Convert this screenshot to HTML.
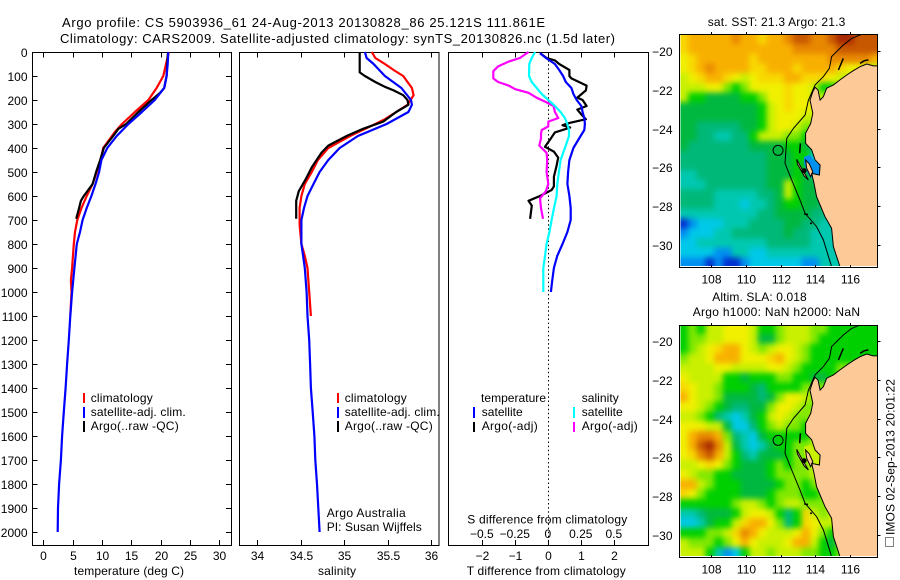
<!DOCTYPE html>
<html>
<head>
<meta charset="utf-8">
<title>Argo profile</title>
<style>
html,body{margin:0;padding:0;background:#fff;}
svg{display:block;}
text{font-family:"Liberation Sans",sans-serif;fill:#000;}
</style>
</head>
<body>
<svg id="chart" xmlns="http://www.w3.org/2000/svg" width="900" height="580" viewBox="0 0 900 580">
<defs>
<filter id="soft" x="-5%" y="-5%" width="110%" height="110%" color-interpolation-filters="sRGB"><feGaussianBlur stdDeviation="3"/></filter>
<clipPath id="clip-top"><rect x="680.5" y="35" width="196.5" height="231"/></clipPath>
<clipPath id="clip-bottom"><rect x="680.5" y="326" width="196.5" height="230"/></clipPath>
</defs>
</svg>
<script>
// ---------- Profile data (depth in m) ----------
const depthTicks = [0,100,200,300,400,500,600,700,800,900,1000,1100,1200,1300,1400,1500,1600,1700,1800,1900,2000];
const tempTicks = [0,5,10,15,20,25,30];
const salTicks = [34,34.5,35,35.5,36];
const tDiffTicks = [-2,-1,0,1,2];
const sDiffTicks = [-0.5,-0.25,0,0.25,0.5];

const tempClimDepth = [0,50,100,150,200,250,300,330,400,450,500,550,600,650,700,750,800,900,950,1000,1100];
const tempClimValue = [21.4,20.9,20.45,19.3,17.9,15.6,13.4,12.3,10.2,9.8,9.1,8.4,7.4,6.5,5.8,5.4,5.2,4.9,4.7,4.8,4.6];
const tempSatDepth = [0,50,100,150,200,250,300,350,400,450,500,550,600,650,700,750,800,900,1000,1100,1200,1300,1400,1500,1600,1700,1800,1900,2000];
const tempSatValue = [21.3,21.2,21.0,20.6,19.0,16.8,14.5,12.5,10.9,9.9,9.5,8.9,8.2,7.4,6.7,6.25,5.7,5.3,4.9,4.6,4.35,4.05,3.8,3.5,3.2,3.0,2.7,2.5,2.45];
const tempArgoDepth = [0,50,100,150,170,200,250,300,320,350,400,450,500,550,570,600,620,650,695];
const tempArgoValue = [21.25,21.1,21.0,20.6,19.9,18.45,16.2,14.1,12.8,11.9,10.3,9.7,9.0,8.4,7.8,6.9,6.4,6.1,5.6];

const salClimDepth = [0,25,50,75,100,150,180,220,250,280,300,350,400,450,500,550,600,650,720,800,850,900,1000,1100];
const salClimValue = [35.32,35.36,35.47,35.57,35.68,35.78,35.8,35.73,35.6,35.47,35.36,35.07,34.82,34.7,34.63,34.55,34.51,34.49,34.49,34.51,34.55,34.58,34.6,34.62];
const salSatDepth = [0,25,50,100,150,200,220,250,300,350,400,450,500,550,600,650,700,800,900,1000,1100,1200,1300,1400,1500,1600,1700,1800,1900,2000];
const salSatValue = [35.24,35.26,35.34,35.47,35.66,35.77,35.78,35.74,35.49,35.16,34.95,34.82,34.72,34.65,34.58,34.54,34.51,34.51,34.55,34.57,34.58,34.6,34.61,34.62,34.64,34.66,34.67,34.69,34.705,34.72];
const salArgoDepth = [0,40,85,100,125,145,160,180,200,220,250,290,320,350,390,420,480,530,580,620,695];
const salArgoValue = [35.18,35.18,35.18,35.24,35.36,35.47,35.57,35.68,35.73,35.74,35.6,35.45,35.22,35.03,34.82,34.74,34.63,34.56,34.48,34.45,34.45];

const dTSatDepth = [5,25,50,75,100,125,150,175,200,225,250,275,300,325,350,400,450,500,550,600,650,700,750,800,850,900,950,1000];
const dTSatValue = [-0.25,-0.07,0.2,0.33,0.45,0.53,0.7,0.76,0.86,1.0,1.04,1.09,1.11,1.09,0.98,0.76,0.64,0.6,0.58,0.64,0.68,0.68,0.58,0.43,0.27,0.17,0.12,0.08];
const dSSatDepth = [0,25,50,100,125,150,175,200,225,250,275,300,325,350,400,450,500,550,600,650,700,750,800,850,900,950,1000];
const dSSatValue = [-0.1,-0.126,-0.144,-0.146,-0.126,-0.088,-0.05,0,0.05,0.093,0.126,0.144,0.157,0.157,0.126,0.093,0.08,0.068,0.063,0.043,0.025,0.008,-0.013,-0.025,-0.038,-0.038,-0.038];
const dTArgoDepth = [5,25,35,50,75,100,110,140,160,190,200,225,240,260,280,295,305,315,335,360,395,415,440,475,520,560,575,600,620,640,695];
const dTArgoValue = [-0.25,-0.05,0.2,0.33,0.64,0.64,0.7,1.16,1.14,0.88,1.04,1.16,0.88,1.0,1.14,0.66,0.43,0.66,0.2,0.08,-0.1,0.17,0.3,0.25,0.17,0.17,0.1,-0.25,-0.6,-0.5,-0.55];
const dSArgoDepth = [0,25,40,60,80,110,125,140,155,170,190,210,225,250,275,290,310,325,340,360,390,420,450,500,550,580,610,650,695];
const dSArgoValue = [-0.15,-0.215,-0.3,-0.38,-0.417,-0.417,-0.38,-0.3,-0.25,-0.15,-0.09,-0.013,0.04,0.05,0.076,0,0,-0.05,-0.055,-0.055,-0.068,-0.013,-0.008,-0.013,0,-0.018,-0.063,-0.055,-0.04];

// ---------- Map data ----------
const lonTicks = [108,110,112,114,116];
const latTicks = [-20,-22,-24,-26,-28,-30];
const profileLon = 111.861;
const profileLat = -25.121;
// Colour level per 0.5 degree cell, north to south, west to east
const sstLevels = [
[10,11,11,11,11,11,12,11,11,10,11,11,12,13,13,12,12,13,14,14,13,13,13],
[10,11,11,11,11,11,11,11,11,11,11,11,11,12,12,12,12,12,13,13,13,13,13],
[9,10,11,11,11,11,11,11,10,11,11,11,11,11,11,11,11,12,12,12,12,12,11],
[9,10,11,12,11,11,11,11,10,10,11,11,11,10,11,11,11,11,10,9,9,8,8],
[8,9,10,11,11,10,9,8,9,10,10,10,11,11,10,10,10,9,8,8,8,8,8],
[8,8,8,9,9,7,6,7,9,9,9,9,10,9,9,8,6,6,8,8,8,8,8],
[8,6,6,5,5,5,5,6,6,7,9,9,10,9,9,8,8,8,8,8,8,8,8],
[5,5,5,5,5,5,5,5,5,6,8,9,10,9,9,9,8,8,8,8,8,8,8],
[5,5,5,5,5,5,5,5,5,6,8,9,9,9,8,8,8,8,8,8,8,8,8],
[5,5,4,4,4,4,4,5,5,6,8,9,9,8,7,7,7,7,7,7,7,7,7],
[5,5,4,4,3,3,4,4,6,8,8,8,7,7,6,6,6,6,6,6,6,6,6],
[5,4,4,4,4,4,4,4,5,5,5,5,6,6,5,5,5,5,5,5,5,5,5],
[4,4,4,4,4,4,4,4,4,4,5,5,5,6,6,2,2,2,5,5,5,5,5],
[4,4,4,4,4,4,4,4,4,4,5,5,5,6,5,2,2,2,5,5,5,5,5],
[3,3,4,4,4,4,4,4,4,4,5,5,5,6,5,4,4,4,5,5,5,5,5],
[3,3,3,4,4,4,4,4,4,4,5,5,8,6,5,5,5,5,5,5,5,5,5],
[4,4,4,4,3,3,3,3,3,4,4,5,8,6,5,5,5,5,5,5,5,5,5],
[4,4,4,4,3,3,3,2,3,3,4,5,6,6,5,5,4,4,4,4,4,4,4],
[3,3,3,3,3,3,3,3,3,4,4,5,5,5,5,4,4,4,4,4,4,4,4],
[0,1,2,2,2,3,3,3,4,4,4,4,5,5,4,4,3,3,3,3,3,3,3],
[1,2,2,2,3,3,4,4,4,4,4,4,5,4,4,3,3,3,3,3,3,3,3],
[2,2,3,3,3,3,3,3,3,3,4,4,4,4,4,3,3,3,3,3,3,3,3],
[2,2,2,2,1,1,3,3,2,2,3,3,3,3,3,3,3,3,3,3,3,3,3],
[1,1,1,0,1,0,0,1,2,2,2,2,2,2,1,1,3,3,3,3,3,3,3]
];
const slaLevels = [
[6,7,6,8,8,9,9,9,8,6,6,7,8,8,8,7,7,6,6,6,6,6,6],
[6,7,7,8,8,9,9,9,8,5,5,7,8,8,8,7,6,6,6,6,6,6,6],
[6,7,8,9,10,11,11,9,8,7,8,9,9,8,7,6,6,6,6,6,6,6,6],
[7,8,8,9,11,11,11,9,9,9,10,11,9,8,7,6,6,6,6,6,6,6,6],
[8,8,8,8,9,9,8,8,8,8,9,9,8,7,6,6,6,6,7,7,7,7,7],
[9,8,8,8,8,6,6,5,6,6,6,7,7,6,6,5,5,6,7,7,7,7,7],
[10,9,8,8,7,6,6,6,5,4,6,6,6,6,7,7,7,7,7,7,7,7,7],
[11,9,8,8,7,5,5,5,5,4,5,7,9,9,8,7,7,7,7,7,7,7,7],
[9,9,8,7,6,5,4,4,5,5,7,9,9,8,7,7,7,7,7,7,7,7,7],
[8,8,7,6,4,3,2,3,5,6,8,9,8,7,7,8,8,8,8,8,8,8,8],
[9,9,9,8,8,5,2,2,4,6,7,8,7,7,6,8,8,8,8,8,8,8,8],
[9,11,12,12,11,7,4,3,2,5,6,6,6,6,6,8,8,8,8,8,8,8,8],
[9,11,13,14,12,8,5,3,2,3,5,6,6,7,7,8,8,8,8,8,8,8,8],
[9,10,12,13,11,8,6,4,3,5,5,5,6,7,7,8,8,8,8,8,8,8,8],
[8,8,9,10,9,7,6,5,5,5,6,7,6,7,7,8,8,8,8,8,8,8,8],
[9,8,7,7,6,6,5,5,5,5,6,7,7,7,7,8,8,8,8,8,8,8,8],
[11,11,8,7,6,6,6,5,5,5,5,6,7,7,6,7,8,8,8,8,8,8,8],
[10,9,7,6,6,6,6,5,5,5,6,7,7,7,6,6,7,8,8,8,8,8,8],
[6,6,6,6,6,6,7,8,8,7,6,7,8,8,7,7,7,8,8,8,8,8,8],
[3,3,4,5,5,5,6,8,9,9,8,6,4,6,10,8,7,8,8,8,8,8,8],
[2,2,3,5,6,6,8,10,11,11,9,7,4,6,10,9,8,8,8,8,8,8,8],
[6,6,6,7,7,8,10,12,11,9,8,8,8,9,11,9,7,6,8,8,8,8,8],
[8,7,7,7,6,7,9,11,9,8,8,8,9,11,11,8,6,5,7,8,8,8,8],
[8,8,8,6,3,1,2,6,8,8,7,8,8,8,7,7,6,6,7,8,8,8,8]
];
const coastLon = [117.55,117.32,116.94,116.56,116.18,115.79,115.41,115.03,114.65,114.46,114.27,114.15,113.98,113.85,113.69,113.85,113.73,113.44,113.44,113.79,113.98,114.27,114.23,113.79,113.92,114.07,114.55,114.93,115.03,115.41];
const coastLat = [-20.77,-20.77,-20.67,-20.81,-21.01,-21.24,-21.49,-21.75,-21.92,-22.35,-22.53,-22.01,-21.87,-22.1,-22.53,-23.21,-23.73,-24.24,-24.76,-25.1,-25.62,-25.88,-26.39,-26.31,-26.82,-27.51,-28.54,-29.14,-30.09,-31.12];
const isobathLon = [116.65,116.08,115.6,114.93,114.8,114.46,113.98,113.6,113.41,112.74,112.36,112.26,112.64,113.12,113.41,114.07,114.46,114.93];
const isobathLat = [-19.14,-19.35,-19.69,-20.29,-20.89,-21.32,-21.75,-22.53,-23.3,-23.99,-24.5,-25.79,-26.65,-27.68,-28.37,-29.05,-29.74,-31.12];
const bayLon = [113.35,113.69,113.98,114.27,114.23,113.85,113.6,113.35];
const bayLat = [-25.45,-25.36,-25.7,-25.91,-26.39,-26.56,-26.39,-25.79];
const peninsulaLon = [113.44,113.65,113.85,113.73,113.5];
const peninsulaLat = [-25.62,-25.82,-26.22,-26.48,-26.05];
const islandLon = [112.93,113.21,113.6,113.35,112.97];
const islandLat = [-25.58,-26.05,-26.65,-26.44,-25.82];
const barrowLon = [115.6,115.32];
const barrowLat = [-20.38,-20.98];
const dampierLon = [116.56,116.8,117.04];
const dampierLat = [-20.64,-20.5,-20.46];
const bernierLon = [113.14,113.1];
const bernierLat = [-24.76,-25.27];
const isletLon = [113.35,113.41,113.52,113.75];
const isletLat = [-26.17,-28.4,-28.42,-28.88];
const isletRadius = [2.5,1,1,1];
const levelColors = ['#0030d0','#0090f0','#00c8e8','#00c8b0','#00b878','#00b840','#00d000','#80e800','#c8f000','#f0f000','#f8d800','#f8b000','#e88800','#c85800','#a82800'];

// ---------- Axis functions ----------
const svg = document.getElementById('chart');
const NS = 'http://www.w3.org/2000/svg';
const yDepth = d => 52 + 0.24 * d;
const xTemp = t => 43.3 + 5.87 * t;
const xSal = s => 257 + 87 * (s - 34);
const xDT = t => 548.3 + 33 * t;
const xDS = s => 548.3 + 132 * s;
const xLon = lon => 710.7 + 17.45 * (lon - 108);
const yLat = (lat, y20) => y20 + 19.4 * (-20 - lat);
const fmt = v => String(v).replace('-', '\u2212');

function make(tag, attrs, parent) {
  const n = document.createElementNS(NS, tag);
  for (const k in attrs) n.setAttribute(k, attrs[k]);
  (parent || svg).appendChild(n);
  return n;
}
function label(x, y, str, size, anchor, len) {
  const attrs = {x: x, y: y, 'font-size': size, 'text-anchor': anchor || 'start'};
  if (len) { attrs.textLength = len; attrs.lengthAdjust = 'spacing'; }
  const t = make('text', attrs);
  t.textContent = str;
  return t;
}
function hair(x1, y1, x2, y2) {
  return make('line', {x1: x1, y1: y1, x2: x2, y2: y2, stroke: '#000', 'stroke-width': 1, 'shape-rendering': 'crispEdges'});
}
function frame(x, y, w, h) {
  return make('rect', {x: x, y: y, width: w, height: h, fill: 'none', stroke: '#000', 'stroke-width': 1, 'shape-rendering': 'crispEdges'});
}
function profile(xs, depths, values, color) {
  const pts = depths.map((d, i) => xs(values[i]).toFixed(1) + ',' + yDepth(d).toFixed(1)).join(' ');
  return make('polyline', {points: pts, fill: 'none', stroke: color, 'stroke-width': 2.2, 'stroke-linejoin': 'round'});
}
function stick(x, y1, y2, color) {
  return make('line', {x1: x, y1: y1, x2: x, y2: y2, stroke: color, 'stroke-width': 2, 'shape-rendering': 'crispEdges'});
}

// ---------- Titles ----------
let n;
n = label(62, 27, 'Argo profile: CS 5903936_61 24-Aug-2013 20130828_86 25.121S 111.861E', 13, 'start', 483);


n = label(60, 43, 'Climatology: CARS2009. Satellite-adjusted climatology: synTS_20130826.nc (1.5d later)', 13, 'start', 555);



// ---------- Temperature panel ----------
n = frame(32.5, 52.5, 199, 493);


depthTicks.forEach(d => {
  const y = Math.round(yDepth(d)) + 0.5;
  n = hair(32, y, 37.5, y);
  
  
  n = hair(226, y, 231.5, y);
  
  
  n = label(27.5, y + 4.5, String(d), 12, 'end');
  
  
});
tempTicks.forEach(t => {
  const x = Math.round(xTemp(t)) + 0.5;
  n = hair(x, 52, x, 57.5);
  
  
  n = hair(x, 540, x, 545.5);
  
  
  n = label(x, 560, String(t), 12, 'middle');
  
  
});
n = label(74, 575, 'temperature (deg C)', 12, 'start', 110);


n = profile(xTemp, tempClimDepth, tempClimValue, '#ff0000');


n = profile(xTemp, tempArgoDepth, tempArgoValue, '#000000');


n = profile(xTemp, tempSatDepth, tempSatValue, '#0000ff');



n = stick(84, 393, 403, '#ff0000');


n = label(90.7, 402, 'climatology', 12, 'start', 62);


n = stick(84, 407, 418, '#0000ff');


n = label(90.7, 416, 'satellite-adj. clim.', 12, 'start', 95);


n = stick(84, 421, 432, '#000000');


n = label(90.7, 430, 'Argo(..raw -QC)', 12, 'start', 88);



// ---------- Salinity panel ----------
n = frame(239.5, 52.5, 199.5, 493);


salTicks.forEach(s => {
  const x = Math.round(xSal(s)) + 0.5;
  n = hair(x, 52, x, 57.5);
  
  
  n = hair(x, 540, x, 545.5);
  
  
  n = label(x, 560, String(s), 12, 'middle');
  
  
});
n = label(318, 575, 'salinity', 12, 'start', 38);


n = profile(xSal, salClimDepth, salClimValue, '#ff0000');


n = profile(xSal, salSatDepth, salSatValue, '#0000ff');


n = profile(xSal, salArgoDepth, salArgoValue, '#000000');



n = stick(338, 393, 403, '#ff0000');


n = label(344.7, 402, 'climatology', 12, 'start', 62);


n = stick(338, 407, 418, '#0000ff');


n = label(344.7, 416, 'satellite-adj. clim.', 12, 'start', 95);


n = stick(338, 421, 432, '#000000');


n = label(344.7, 430, 'Argo(..raw -QC)', 12, 'start', 88);


n = label(326.7, 517, 'Argo Australia', 12, 'start', 79);


n = label(326.7, 531, 'PI: Susan Wijffels', 12, 'start', 95);



// ---------- Difference panel ----------
n = frame(448.5, 52.5, 200, 493);


n = make('line', {x1: 548.5, y1: 52, x2: 548.5, y2: 545, stroke: '#000', 'stroke-width': 1, 'stroke-dasharray': '1.5 2.6'});


tDiffTicks.forEach(t => {
  const x = Math.round(xDT(t)) + 0.5;
  n = hair(x, 52, x, 57.5);
  
  
  n = hair(x, 540, x, 545.5);
  
  
  n = label(x, 560, fmt(t), 12, 'middle');
  
  
});
sDiffTicks.forEach(s => {
  n = label(xDS(s) - 0.5, 538, fmt(s), 12, 'middle');
  
  
});
n = label(467.3, 523.5, 'S difference from climatology', 12, 'start', 160);


n = label(466.7, 575, 'T difference from climatology', 12, 'start', 159);


n = profile(xDT, dTArgoDepth, dTArgoValue, '#000000');


n = profile(xDT, dTSatDepth, dTSatValue, '#0000ff');


n = profile(xDS, dSArgoDepth, dSArgoValue, '#ff00ff');


n = profile(xDS, dSSatDepth, dSSatValue, '#00ffff');



n = label(481, 402, 'temperature', 12, 'start', 65);


n = stick(474, 407, 418, '#0000ff');


n = label(481.7, 416, 'satellite', 12, 'start', 41);


n = stick(474, 422, 432, '#000000');


n = label(481.7, 430, 'Argo(-adj)', 12, 'start', 56);


n = label(581.7, 402, 'salinity', 12, 'start', 37);


n = stick(574, 407, 418, '#00ffff');


n = label(581.7, 416, 'satellite', 12, 'start', 41);


n = stick(574, 422, 432, '#ff00ff');


n = label(581.7, 430, 'Argo(-adj)', 12, 'start', 56);



// ---------- Maps ----------
function geoPoints(lons, lats, y20) {
  return lons.map((lon, i) => xLon(lon).toFixed(1) + ',' + yLat(lats[i], y20).toFixed(1)).join(' ');
}
function islandLine(clip, prefix, lons, lats, y20) {
  const line = make('polyline', {points: geoPoints(lons, lats, y20), fill: 'none', stroke: '#000', 'stroke-width': 1.5}, clip);
  
  
}
function drawMap(prefix, levels, y20, top, bottom, clipId, bayLevel) {
  const clip = make('g', {'clip-path': 'url(#' + clipId + ')'});
  
  
  const cells = make('g', {filter: 'url(#soft)'}, clip);
  
  
  const lon0 = 106.2, lat0 = -19.14, step = 0.5;
  levels.forEach((row, r) => {
    row.forEach((v, c) => {
      const x1 = xLon(lon0 + c * step), x2 = xLon(lon0 + (c + 1) * step);
      const y1 = yLat(lat0 - r * step, y20), y2 = yLat(lat0 - (r + 1) * step, y20);
      const extraL = c === 0 ? 10 : 0, extraT = r === 0 ? 10 : 0;
      const extraR = c === row.length - 1 ? 10 : 0.4, extraB = r === levels.length - 1 ? 10 : 0.4;
      const cell = make('rect', {x: x1 - extraL, y: y1 - extraT, width: x2 - x1 + extraL + extraR, height: y2 - y1 + extraT + extraB, fill: levelColors[Math.max(0, Math.min(14, Math.round(v)))]}, cells);
      
      
    });
  });
  const bay = make('polygon', {points: geoPoints(bayLon, bayLat, y20), fill: levelColors[bayLevel]}, clip);
  
  
  const landLon = coastLon.concat([118, 118]);
  const landLat = coastLat.concat([-31.5, -20.77]);
  const land = make('polygon', {points: geoPoints(landLon, landLat, y20), fill: '#fdc997'}, clip);
  
  
  const pen = make('polygon', {points: geoPoints(peninsulaLon, peninsulaLat, y20), fill: '#fdc997', stroke: '#000', 'stroke-width': 1}, clip);
  
  
  const isl = make('polygon', {points: geoPoints(islandLon, islandLat, y20), fill: '#fdc997', stroke: '#000', 'stroke-width': 1}, clip);
  
  
  islandLine(clip, prefix + '-barrow', barrowLon, barrowLat, y20);
  islandLine(clip, prefix + '-dampier', dampierLon, dampierLat, y20);
  islandLine(clip, prefix + '-bernier', bernierLon, bernierLat, y20);
  isletLon.forEach((lon, i) => {
    const dot = make('circle', {cx: xLon(lon), cy: yLat(isletLat[i], y20), r: isletRadius[i], fill: '#000'}, clip);
    
    
  });
  const coast = make('polyline', {points: geoPoints(coastLon, coastLat, y20), fill: 'none', stroke: '#000', 'stroke-width': 1}, clip);
  
  
  const iso = make('polyline', {points: geoPoints(isobathLon, isobathLat, y20), fill: 'none', stroke: '#000', 'stroke-width': 1}, clip);
  
  
  const ring = make('circle', {cx: xLon(profileLon), cy: yLat(profileLat, y20), r: 5, fill: 'none', stroke: '#000', 'stroke-width': 1});
  
  
  const fr = frame(679.5, top + 0.5, 198, bottom - top);
  
  
  lonTicks.forEach(lon => {
    const x = Math.round(xLon(lon)) + 0.5;
    const t1 = hair(x, top - 2, x, top + 0.5);
    
    
    const t2 = hair(x, bottom - 2, x, bottom + 0.5);
    
    
    const l = label(x, bottom + 16.5, String(lon), 12, 'middle');
    
    
  });
  latTicks.forEach(lat => {
    const y = Math.round(yLat(lat, y20)) + 0.5;
    const t = hair(877.5, y, 880.5, y);
    
    
    const l = label(672.5, y + 4.5, fmt(lat), 12, 'end');
    
    
  });
}
drawMap('sst', sstLevels, 51, 34, 267, 'clip-top', 1);
drawMap('sla', slaLevels, 341, 325, 557, 'clip-bottom', 8);

n = label(707.7, 26, 'sat. SST: 21.3 Argo: 21.3', 12, 'start', 137.6);


n = label(712.3, 301, 'Altim. SLA: 0.018', 12, 'start', 94.4);


n = label(692.7, 316, 'Argo h1000: NaN h2000: NaN', 12, 'start', 167.3);



// ---------- Timestamp ----------
n = make('rect', {x: 885.5, y: 537.5, width: 8, height: 9, fill: '#fff', stroke: '#000', 'stroke-width': 1, 'stroke-dasharray': '1 1', 'shape-rendering': 'crispEdges'});


n = label(0, 0, 'IMOS 02-Sep-2013 20:01:22', 12, 'start', 156);
n.setAttribute('transform', 'translate(894.5,535) rotate(-90)');


</script>
</body>
</html>
